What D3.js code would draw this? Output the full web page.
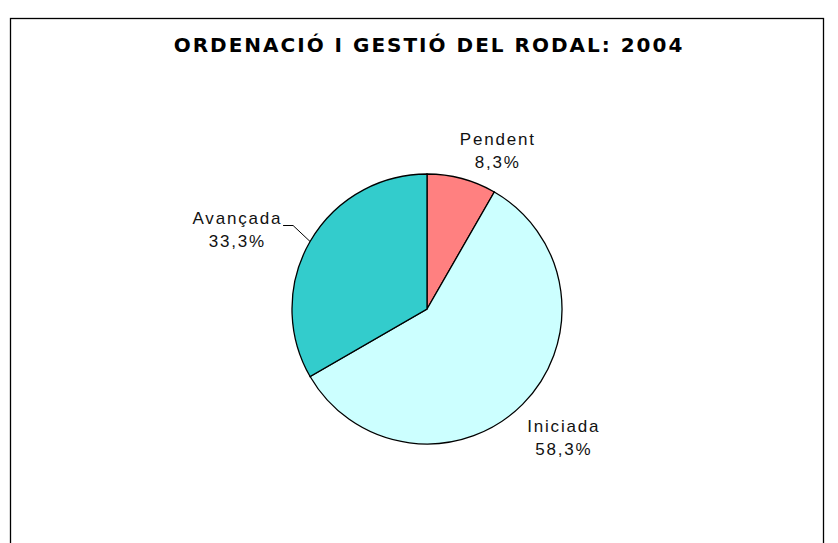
<!DOCTYPE html>
<html>
<head>
<meta charset="utf-8">
<script src="https://cdn.jsdelivr.net/npm/d3@7"></script>
<style>
  body { margin: 0; background: #fff; }
  text { font-family: "Liberation Sans", Arial, sans-serif; }
</style>
</head>
<body>
<div id="chart"></div>
<script>
// data
const categories = ["Pendent", "Iniciada", "Avançada"];
const values = [8.3, 58.3, 33.3];
const colors = ["#FF8080", "#CCFFFF", "#33CCCC"];
const title = "ORDENACIÓ I GESTIÓ DEL RODAL: 2004";

const width = 838, height = 543;
const cx = 427, cy = 309, radius = 135;

// where each label sits: angle (deg, clockwise from top) and distance from centre
const labelAt = [[24, 174], [133, 187], [293, 206]];

const svg = d3.select("#chart").append("svg")
    .attr("width", width)
    .attr("height", height);

// chart frame
svg.append("rect")
    .attr("x", 10.5).attr("y", 18.5)
    .attr("width", 813).attr("height", 600)
    .attr("fill", "none")
    .attr("stroke", "#000")
    .attr("stroke-width", 1.3);

svg.append("text")
    .attr("x", 429).attr("y", 52)
    .attr("text-anchor", "middle")
    .style("font-family", "'DejaVu Sans', Verdana, sans-serif")
    .style("font-weight", "bold")
    .style("font-size", "20px")
    .style("letter-spacing", "2px")
    .text(title);

const data = categories.map((c, i) => ({ name: c, value: values[i], color: colors[i] }));

const pie = d3.pie().value(d => d.value).sort(null);
const arc = d3.arc().innerRadius(0).outerRadius(radius);

const g = svg.append("g").attr("transform", `translate(${cx},${cy})`);

g.selectAll("path")
    .data(pie(data))
    .join("path")
    .attr("d", arc)
    .attr("fill", d => d.data.color)
    .attr("stroke", "#000")
    .attr("stroke-width", 1.3);

const fmt = v => v.toFixed(1).replace(".", ",") + "%";

const labels = g.selectAll("text.lbl")
    .data(pie(data))
    .join("text")
    .attr("class", "lbl")
    .attr("text-anchor", "middle")
    .style("font-size", "17px")
    .style("letter-spacing", "1.8px")
    .attr("fill", "#111")
    .attr("transform", (d, i) => {
        const a = labelAt[i][0] * Math.PI / 180, r = labelAt[i][1];
        return `translate(${r * Math.sin(a)},${-r * Math.cos(a)})`;
    });
labels.append("tspan").attr("x", 0).attr("y", -5).text(d => d.data.name);
labels.append("tspan").attr("x", 0).attr("y", 18).text(d => fmt(d.data.value));

// leader line for the Avançada label
const av = pie(data)[2];
const mid = (av.startAngle + av.endAngle) / 2;
const ex = radius * Math.sin(mid), ey = -radius * Math.cos(mid);
g.append("polyline")
    .attr("points", [[ex, ey], [ex - 17, ey - 16], [ex - 27, ey - 16]].map(p => p.join(",")).join(" "))
    .attr("fill", "none")
    .attr("stroke", "#000")
    .attr("stroke-width", 1);
</script>
</body>
</html>
